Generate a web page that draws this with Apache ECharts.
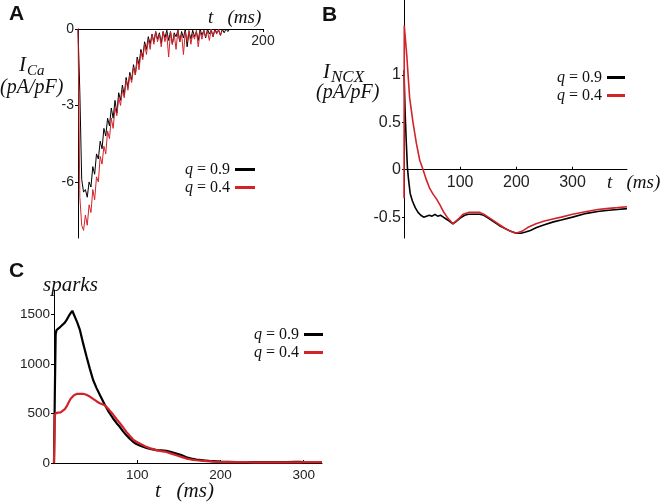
<!DOCTYPE html>
<html><head><meta charset="utf-8">
<script src="https://cdn.jsdelivr.net/npm/echarts@6/dist/echarts.min.js"></script>
<style>html,body{margin:0;padding:0;background:#fff}#c{width:663px;height:502px}</style>
</head><body><div id="c"></div>
<script>
// ---------- Panel A: I_Ca (pA/pF) vs t (ms) ----------
const tA = [0,2,4,6,8,10,12,14,16,18,20,22,24,26,28,30,32,34,36,38,40,42,44,46,48,50,52,54,56,58,60,62,64,66,68,70,72,74,76,78,80,82,84,86,88,90,92,94,96,98,100,102,104,106,108,110,112,114,116,118,120,122,124,126,128,130,132,134,136,138,140,142,144,146,148,150,152,154,156,158,160,162,164];
const caBlack = [0,-2.5,-5.9,-6.4,-6.3,-6.6,-6.0,-6.2,-5.4,-5.7,-4.9,-5.1,-4.4,-4.7,-3.9,-4.2,-3.5,-3.8,-3.1,-3.5,-2.8,-3.3,-2.5,-2.8,-2.2,-2.6,-1.9,-2.3,-1.7,-2.0,-1.4,-1.8,-1.1,-1.4,-0.8,-1.1,-0.5,-0.8,-0.3,-0.6,-0.2,-0.5,-0.1,-0.4,-0.15,-0.55,-0.1,-0.35,-0.05,-0.45,-0.1,-0.6,-0.15,-0.3,-0.05,-0.5,-0.1,-0.35,0,-0.7,-0.1,-0.4,-0.05,-0.3,-0.1,-0.45,0,-0.25,-0.05,-0.35,0,-0.2,-0.05,-0.3,0,-0.15,-0.05,-0.25,0,-0.15,0,-0.1,0];
const caRed = [0,-6.6,-7.7,-7.9,-7.3,-7.7,-6.9,-7.2,-6.3,-6.7,-5.8,-6.0,-5.0,-5.3,-4.6,-4.9,-4.0,-4.3,-3.5,-3.9,-3.1,-3.4,-2.7,-3.0,-2.4,-2.7,-2.0,-2.4,-1.8,-2.1,-1.5,-1.8,-1.2,-1.6,-0.9,-1.2,-0.6,-1.0,-0.4,-0.8,-0.2,-0.6,-0.1,-0.5,-0.2,-0.7,-0.1,-0.5,-0.2,-1.1,-0.1,-0.6,-0.2,-0.8,-0.05,-0.5,-0.2,-1.0,-0.1,-0.5,-0.05,-0.6,-0.2,-0.4,-0.05,-0.7,-0.1,-0.4,-0.05,-0.3,-0.1,-0.45,0,-0.3,-0.05,-0.2,0,-0.25,-0.05];
const caTicks = [0,-3,-6];
const caXTicks = [200];

// ---------- Panel B: I_NCX (pA/pF) vs t (ms) ----------
const tNcxBlack = [0,2,4,6,8,11,15,20,25,30,35,40,45,50,55,60,65,70,75,80,87,92,100,108,115,125,135,142,150,160,170,180,190,200,208,215,225,236,250,266,280,300,325,345,360,380,397];
const ncxBlack = [1.05,0.6,0.3,0.03,-0.1,-0.25,-0.33,-0.4,-0.45,-0.48,-0.5,-0.49,-0.48,-0.49,-0.47,-0.49,-0.48,-0.5,-0.52,-0.54,-0.57,-0.55,-0.51,-0.48,-0.47,-0.47,-0.47,-0.48,-0.51,-0.55,-0.59,-0.62,-0.65,-0.67,-0.67,-0.66,-0.64,-0.61,-0.58,-0.55,-0.53,-0.50,-0.46,-0.44,-0.43,-0.42,-0.41];
const tNcxRed = [0,0.5,5,10,16,22,28,34,40,46,52,58,64,70,78,87,95,105,115,125,135,142,150,160,170,180,190,199,210,220,235,250,265,280,300,325,345,360,380,397];
const ncxRed = [-0.3,1.52,1.2,0.76,0.5,0.28,0.1,0,-0.11,-0.2,-0.26,-0.31,-0.37,-0.44,-0.51,-0.57,-0.53,-0.47,-0.45,-0.45,-0.45,-0.47,-0.5,-0.54,-0.58,-0.62,-0.65,-0.67,-0.65,-0.61,-0.57,-0.54,-0.52,-0.50,-0.47,-0.44,-0.42,-0.41,-0.40,-0.39];
const ncxYTicks = [1,0.5,0,-0.5];
const ncxXTicks = [100,200,300];
const ncxYMin = -0.72, ncxYMax = 1.79;

// ---------- Panel C: sparks vs t (ms) ----------
const tSparks = [0,1,2,3,5,8,10,13,15,18,20,22,24,26,28,31,35,39,43,47,51,55,61,66,71,75,79,83,87,91,95,99,103,107,111,117,123,129,135,141,147,153,159,165,171,180,191,200,210,220,230,240,250,260,270,280,290,295,300,310,322];
const sparksBlack = [0,700,1300,1345,1365,1380,1395,1420,1445,1490,1515,1540,1500,1460,1420,1350,1210,1080,955,840,760,690,590,515,450,405,366,320,280,245,215,192,178,165,153,140,130,127,124,110,95,80,58,44,35,27,18,14,12,10,9,9,8,8,8,9,11,12,9,6,5];
const sparksRed = [0,480,505,505,510,512,520,545,570,620,650,670,685,695,700,700,700,690,672,648,625,605,585,540,490,445,405,360,315,275,237,215,197,180,163,145,130,120,112,95,78,62,45,35,28,22,13,10,9,8,8,7,7,7,7,7,7,7,8,8,9];
const sparksYTicks = [0,500,1000,1500];
const sparksXTicks = [100,200,300];

const seriesNames = ['q = 0.9','q = 0.4'];
const BLACK = '#000000', RED = '#d2232a';

const pairs = (ts, vs) => vs.map((v,i) => [ts[i], v]);
const SANS = '"Liberation Sans", Arial, sans-serif';
const SERIF = '"Liberation Serif", "DejaVu Serif", serif';
const plain = v => String(v);

function axisCommon(fs){
  return {
    type:'value',
    splitLine:{show:false},
    axisLine:{show:true, lineStyle:{color:'#000', width:1}},
    axisLabel:{fontSize:fs, color:'#222', fontFamily:SANS, formatter:plain},
  };
}
function mk(base, extra){ return echarts.util.merge(echarts.util.clone(base), extra, true); }

const legendBase = {
  orient:'vertical', align:'right', icon:'rect', itemWidth:20, itemHeight:3, itemGap:1,
  padding:0, selectedMode:false, data:seriesNames,
  formatter: n => '{i|q} = ' + n.split('= ')[1],
  textStyle:{fontFamily:SERIF, fontSize:16, color:'#111', lineHeight:17,
    rich:{i:{fontStyle:'italic', fontFamily:SERIF, fontSize:16, color:'#111'}}}
};

function txt(x, y, text, font, align){
  return {type:'text', x:x, y:y, silent:true,
    style:{text:text, font:font, fill:'#111', align:align||'left', verticalAlign:'middle'}};
}

const gridB = {left:404, top:0, width:223, height:238};
// place panel B's time axis on the zero line of its current axis
const zeroOffsetB = -gridB.height * (0 - ncxYMin) / (ncxYMax - ncxYMin);

const option = {
  animation:false,
  backgroundColor:'#fff',
  grid:[
    {left:78, top:29, width:185, height:209},
    gridB,
    {left:54, top:290, width:268, height:173}
  ],
  xAxis:[
    mk(axisCommon(14), {gridIndex:0, min:0, max:200, position:'top',
      axisLine:{onZero:false},
      axisTick:{show:true, customValues:caXTicks, inside:true, length:3, lineStyle:{color:'#000'}},
      axisLabel:{customValues:caXTicks, inside:true, margin:5}}),
    mk(axisCommon(16), {gridIndex:1, min:0, max:397, offset:zeroOffsetB,
      axisLine:{onZero:false},
      axisTick:{show:true, customValues:ncxXTicks, inside:true, length:3, lineStyle:{color:'#000'}},
      axisLabel:{customValues:ncxXTicks, margin:5}}),
    mk(axisCommon(13.5), {gridIndex:2, min:0, max:322,
      axisTick:{show:true, customValues:sparksXTicks, inside:true, length:3, lineStyle:{color:'#000'}},
      axisLabel:{customValues:sparksXTicks, margin:5}})
  ],
  yAxis:[
    mk(axisCommon(14), {gridIndex:0, min:-8.2, max:0,
      axisLine:{onZero:false},
      axisTick:{show:true, customValues:caTicks, length:3, lineStyle:{color:'#000'}},
      axisLabel:{customValues:caTicks, margin:4}}),
    mk(axisCommon(16), {gridIndex:1, min:ncxYMin, max:ncxYMax,
      axisLine:{onZero:false},
      axisTick:{show:true, customValues:ncxYTicks, length:2, lineStyle:{color:'#000'}},
      axisLabel:{customValues:ncxYTicks, margin:3}}),
    mk(axisCommon(13.5), {gridIndex:2, min:0, max:1750,
      axisLine:{onZero:false},
      axisTick:{show:true, customValues:sparksYTicks, length:3, lineStyle:{color:'#000'}},
      axisLabel:{customValues:sparksYTicks, margin:4}})
  ],
  legend:[
    mk(legendBase, {right:408, top:161}),
    mk(legendBase, {right:38, top:69, itemWidth:18}),
    mk(legendBase, {right:340, top:326, itemWidth:19})
  ],
  series:[
    {name:seriesNames[0], type:'line', xAxisIndex:0, yAxisIndex:0, data:pairs(tA, caBlack), symbol:'none', color:BLACK, lineStyle:{width:1, color:BLACK}},
    {name:seriesNames[1], type:'line', xAxisIndex:0, yAxisIndex:0, data:pairs(tA, caRed), symbol:'none', color:RED, lineStyle:{width:1, color:RED}},
    {name:seriesNames[0], type:'line', xAxisIndex:1, yAxisIndex:1, data:pairs(tNcxBlack, ncxBlack), symbol:'none', color:BLACK, lineStyle:{width:1.6, color:BLACK}},
    {name:seriesNames[1], type:'line', xAxisIndex:1, yAxisIndex:1, data:pairs(tNcxRed, ncxRed), symbol:'none', color:RED, lineStyle:{width:1.6, color:RED}},
    {name:seriesNames[0], type:'line', xAxisIndex:2, yAxisIndex:2, data:pairs(tSparks, sparksBlack), symbol:'none', color:BLACK, lineStyle:{width:2.2, color:BLACK}},
    {name:seriesNames[1], type:'line', xAxisIndex:2, yAxisIndex:2, data:pairs(tSparks, sparksRed), symbol:'none', color:RED, lineStyle:{width:2.2, color:RED}}
  ],
  graphic:[
    txt(9, 14, 'A', 'bold 21px ' + SANS),
    txt(322, 15, 'B', 'bold 21px ' + SANS),
    txt(9, 271, 'C', 'bold 21px ' + SANS),
    txt(19, 65, 'I', 'italic 21px ' + SERIF),
    txt(27, 71, 'Ca', 'italic 15px ' + SERIF),
    txt(0, 88, '(pA/pF)', 'italic 20px ' + SERIF),
    txt(323, 72, 'I', 'italic 21px ' + SERIF),
    txt(331, 78, 'NCX', 'italic 17px ' + SERIF),
    txt(316, 93, '(pA/pF)', 'italic 20px ' + SERIF),
    txt(208, 18, 't   (ms)', 'italic 19px ' + SERIF),
    txt(607, 183, 't   (ms)', 'italic 19px ' + SERIF),
    txt(155, 491, 't   (ms)', 'italic 21px ' + SERIF),
    txt(43, 285, 'sparks', 'italic 21px ' + SERIF)
  ]
};
const chart = echarts.init(document.getElementById('c'), null, {renderer:'canvas'});
chart.setOption(option);
</script>
</body></html>
